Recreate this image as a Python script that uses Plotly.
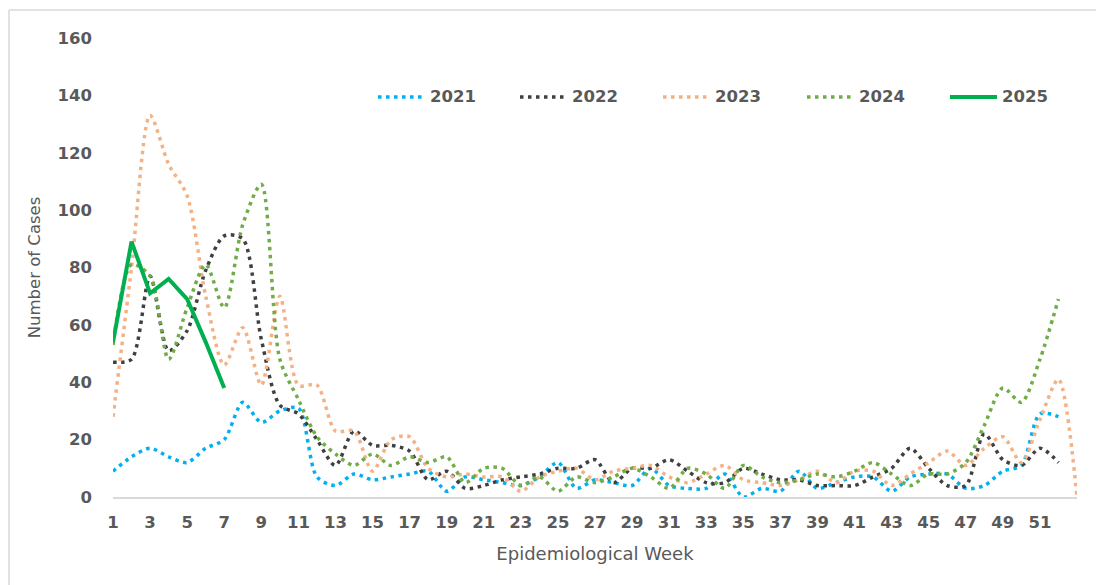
import plotly.graph_objects as go

# Weekly case counts by epidemiological week
weeks = list(range(1, 54))

cases_2021 = [9, 14, 17, 14, 12, 17, 20, 33, 26, 30, 31, 7, 4, 8, 6, 7, 8, 9, 2, 7,
              6, 5, 4, 7, 12, 3, 6, 5, 4, 10, 4, 3, 3, 8, 0, 3, 2, 9, 3, 5,
              7, 7, 2, 7, 8, 8, 3, 4, 9, 11, 29, 28]
cases_2022 = [47, 48, 77, 51, 58, 79, 91, 90, 55, 32, 29, 20, 11, 23, 18, 18, 16, 6, 9, 3,
              4, 6, 7, 8, 10, 10, 13, 5, 10, 10, 13, 9, 5, 5, 10, 8, 6, 6, 4, 4,
              4, 7, 10, 17, 10, 4, 4, 22, 13, 11, 17, 12]
cases_2023 = [28, 80, 133, 116, 105, 70, 46, 59, 39, 70, 39, 39, 23, 23, 9, 20, 21, 10, 7, 8,
              7, 7, 2, 7, 9, 10, 6, 9, 10, 11, 7, 5, 8, 11, 6, 5, 4, 6, 9, 5,
              9, 9, 4, 8, 12, 16, 11, 17, 21, 12, 27, 41, 0]
cases_2024 = [53, 81, 77, 48, 66, 81, 66, 95, 109, 48, 34, 21, 15, 11, 15, 11, 14, 12, 14, 5,
              10, 10, 4, 7, 2, 7, 5, 7, 10, 7, 3, 10, 8, 3, 11, 7, 5, 6, 8, 7,
              9, 12, 8, 4, 8, 8, 12, 25, 38, 33, 48, 69]
cases_2025 = [54, 89, 71, 76, 69, 54, 38]

years = ["2021", "2022", "2023", "2024", "2025"]
colors = ["#00B0F0", "#404040", "#F4B183", "#70AD47", "#00B050"]
values = [cases_2021, cases_2022, cases_2023, cases_2024, cases_2025]

y_ticks = list(range(0, 161, 20))
x_ticks = list(range(1, 52, 2))

FONT = "'DejaVu Sans', Verdana, sans-serif"
GREY = "#595959"
DOT = "3.5px,4.5px"

# plot-area geometry in pixels (used to place the key in paper units)
W, H = 1096, 585
ML, MR, MT, MB = 113, 19, 38, 88
PW, PH = W - ML - MR, H - MT - MB


def px_x(px):
    return (px - ML) / PW


def px_y(py):
    return (H - MB - py) / PH


fig = go.Figure()

for name, vals, color in zip(years, values, colors):
    solid = name == "2025"
    fig.add_trace(go.Scatter(
        x=weeks[:len(vals)], y=vals, name=name, mode="lines",
        line=dict(color=color, width=4 if solid else 3.5,
                  dash="solid" if solid else DOT,
                  shape="linear" if solid else "spline",
                  smoothing=0.8 if not solid else None),
        hoverinfo="skip", showlegend=False,
    ))

# Series key drawn across the top of the plot area
key_line_x = [378, 520, 663, 807, 950]
key_y = 97
shapes = []
annotations = []
for lx, name, color in zip(key_line_x, years, colors):
    solid = name == "2025"
    shapes.append(dict(
        type="line", xref="paper", yref="paper",
        x0=px_x(lx), x1=px_x(lx + 47), y0=px_y(key_y), y1=px_y(key_y),
        line=dict(color=color, width=4 if solid else 3.5,
                  dash="solid" if solid else DOT),
    ))
    annotations.append(dict(
        x=px_x(lx + 50), y=px_y(key_y), xref="paper", yref="paper",
        xanchor="left", yanchor="middle", showarrow=False, text=name,
        font=dict(family=FONT, size=16.5, color=GREY, weight="bold"),
    ))

# chart-area border along the top and left edges
shapes += [
    dict(type="line", xref="paper", yref="paper",
         x0=px_x(9), x1=px_x(W + 5), y0=px_y(10), y1=px_y(10),
         line=dict(color="#D9D9D9", width=1.5)),
    dict(type="line", xref="paper", yref="paper",
         x0=px_x(9), x1=px_x(9), y0=px_y(10), y1=px_y(H + 5),
         line=dict(color="#D9D9D9", width=1.5)),
]

fig.update_layout(
    width=W, height=H,
    margin=dict(l=ML, r=MR, t=MT, b=MB),
    paper_bgcolor="white", plot_bgcolor="white",
    font=dict(family=FONT, color=GREY),
    showlegend=False,
    xaxis=dict(
        range=[1, 53], tickmode="array", tickvals=x_ticks,
        ticktext=[str(t) for t in x_ticks],
        showgrid=False, zeroline=False, showline=True,
        linecolor="#D9D9D9", linewidth=1.5, ticks="",
        tickfont=dict(family=FONT, size=16.5, color=GREY, weight="bold"),
        ticklabelstandoff=9,
        title=dict(text="Epidemiological Week", standoff=17,
                   font=dict(family=FONT, size=18, color=GREY)),
    ),
    yaxis=dict(
        range=[0, 160], tickmode="array", tickvals=y_ticks,
        showgrid=False, zeroline=False, showline=False, ticks="",
        tickfont=dict(family=FONT, size=16.5, color=GREY, weight="bold"),
        ticklabelstandoff=20,
        title=dict(text="Number of Cases", standoff=12,
                   font=dict(family=FONT, size=16.5, color=GREY)),
    ),
    shapes=shapes,
    annotations=annotations,
)

fig.write_html("out.html")
